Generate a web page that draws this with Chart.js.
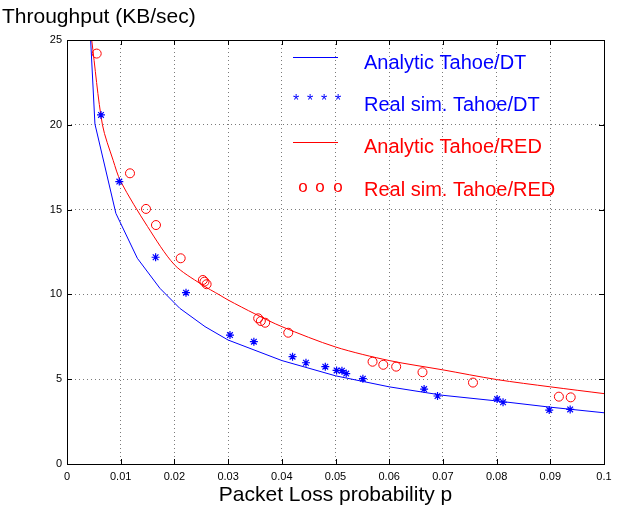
<!DOCTYPE html>
<html>
<head>
<meta charset="utf-8">
<script src="https://cdn.jsdelivr.net/npm/chart.js@4"></script>
<style>
html,body{margin:0;padding:0;background:#fff;}
#wrap{position:relative;width:628px;height:513px;}
</style>
</head>
<body>
<div id="wrap"><canvas id="c" width="628" height="513"></canvas></div>
<script>
// ---- data ----
const xTickValues = [0,0.01,0.02,0.03,0.04,0.05,0.06,0.07,0.08,0.09,0.1];
const xTickLabels = ['0','0.01','0.02','0.03','0.04','0.05','0.06','0.07','0.08','0.09','0.1'];
const yTickValues = [0,5,10,15,20,25];
const yTickLabels = ['0','5','10','15','20','25'];

const dtAnalyticP = [0.0044,0.0052,0.0091,0.0131,0.0173,0.021,0.0257,0.03,0.04,0.05,0.06,0.07,0.08,0.09,0.1];
const dtAnalyticT = [25,20.05,14.78,12.13,10.36,9.18,8.1,7.31,6.1,5.2,4.55,4.05,3.72,3.35,3.02];

const dtSimP = [0.00633,0.00974,0.0165,0.02216,0.03035,0.0348,0.042,0.0445,0.0481,0.0502,0.0512,0.052,0.0551,0.0665,0.069,0.0801,0.0812,0.0898,0.0937];
const dtSimT = [20.58,16.65,12.19,10.1,7.6,7.21,6.33,5.97,5.74,5.52,5.5,5.33,5.03,4.42,4.01,3.83,3.64,3.18,3.22];

const redAnalyticP = [0.0046,0.0066,0.0086,0.01,0.015,0.02,0.025,0.0285,0.03,0.035,0.04,0.05,0.06,0.07,0.08,0.09,0.1];
const redAnalyticT = [25,20,17.9,16.66,14.0,11.75,10.6,9.95,9.67,8.85,8.1,6.9,6.1,5.55,4.98,4.55,4.15];

const redSimP = [0.00553,0.01173,0.01471,0.01657,0.02117,0.0253,0.0256,0.026,0.0356,0.0361,0.0369,0.0412,0.0569,0.0589,0.0613,0.0662,0.0756,0.0916,0.0938];
const redSimT = [24.2,17.14,15.04,14.09,12.13,10.85,10.75,10.6,8.59,8.43,8.33,7.74,6.03,5.85,5.74,5.41,4.8,3.97,3.93];

const seriesNames = ['Analytic Tahoe/DT','Real sim. Tahoe/DT','Analytic Tahoe/RED','Real sim. Tahoe/RED'];
const yTitle = 'Throughput (KB/sec)';
const xTitle = 'Packet Loss probability p';

const BLUE = '#0000ff', RED = '#ff0000';
const FONT = "'Liberation Sans', Arial, Helvetica, sans-serif";
const pts = (xs, ys) => xs.map((x,i)=>({x:x, y:ys[i]}));

const framePlugin = {
  id: 'frame',
  afterDatasetsDraw(chart){
    const ctx = chart.ctx, a = chart.chartArea;
    const xs = chart.scales.x, ys = chart.scales.y;
    ctx.save();
    ctx.strokeStyle = '#000';
    ctx.lineWidth = 1;
    ctx.setLineDash([]);
    ctx.strokeRect(Math.round(a.left)+0.5, Math.round(a.top)+0.5, Math.round(a.right-a.left), Math.round(a.bottom-a.top));
    ctx.beginPath();
    const tl = 5;
    xTickValues.forEach(v=>{
      const px = Math.round(xs.getPixelForValue(v))+0.5;
      ctx.moveTo(px, a.bottom); ctx.lineTo(px, a.bottom-tl);
      ctx.moveTo(px, a.top); ctx.lineTo(px, a.top+tl);
    });
    yTickValues.forEach(v=>{
      const py = Math.round(ys.getPixelForValue(v))+0.5;
      ctx.moveTo(a.left, py); ctx.lineTo(a.left+tl, py);
      ctx.moveTo(a.right, py); ctx.lineTo(a.right-tl, py);
    });
    ctx.stroke();

    // titles
    ctx.fillStyle = '#000';
    ctx.font = '21px ' + FONT;
    ctx.textAlign = 'left';
    ctx.textBaseline = 'alphabetic';
    ctx.fillText(yTitle, 2, 23);
    ctx.textAlign = 'center';
    ctx.fillText(xTitle, (a.left+a.right)/2, 501);

    // legend
    const lx0 = 293, lx1 = 338, tx = 364;
    const rows = [69, 111, 153, 196];
    const cols = [BLUE, BLUE, RED, RED];
    ctx.lineWidth = 1;
    ctx.strokeStyle = BLUE;
    ctx.beginPath(); ctx.moveTo(lx0, 57.5); ctx.lineTo(lx1, 57.5); ctx.stroke();
    ctx.strokeStyle = RED;
    ctx.beginPath(); ctx.moveTo(lx0, 142.5); ctx.lineTo(lx1, 142.5); ctx.stroke();
    ctx.textAlign = 'center';
    ctx.fillStyle = BLUE;
    ctx.font = '16px ' + FONT;
    [296, 310, 324, 338].forEach(x=>ctx.fillText('*', x, 106));
    ctx.fillStyle = RED;
    ctx.font = '17px ' + FONT;
    [303, 320, 338].forEach(x=>ctx.fillText('o', x, 192));
    ctx.textAlign = 'left';
    ctx.font = '20px ' + FONT;
    seriesNames.forEach((n,i)=>{
      ctx.fillStyle = cols[i];
      ctx.fillText(n, tx, rows[i]);
    });
    ctx.restore();
  }
};

new Chart(document.getElementById('c'), {
  type: 'scatter',
  data: {
    datasets: [
      {label: seriesNames[0], data: pts(dtAnalyticP, dtAnalyticT), showLine: true, borderColor: BLUE, borderWidth: 1, pointRadius: 0, fill: false, tension: 0},
      {label: seriesNames[1], data: pts(dtSimP, dtSimT), showLine: false, pointStyle: 'star', pointRadius: 4, borderColor: BLUE, backgroundColor: BLUE, pointBorderWidth: 1.2},
      {label: seriesNames[2], data: pts(redAnalyticP, redAnalyticT), showLine: true, borderColor: RED, borderWidth: 1, pointRadius: 0, fill: false, tension: 0.3},
      {label: seriesNames[3], data: pts(redSimP, redSimT), showLine: false, pointStyle: 'circle', pointRadius: 4.5, borderColor: RED, backgroundColor: 'rgba(0,0,0,0)', pointBorderWidth: 1}
    ]
  },
  options: {
    responsive: false,
    animation: false,
    events: [],
    layout: {padding: {left: 0, right: 24, top: 40, bottom: 0}},
    plugins: {legend: {display: false}, tooltip: {enabled: false}},
    scales: {
      x: {
        type: 'linear', min: 0, max: 0.1,
        afterFit(s){ s.height = 49; },
        afterBuildTicks(s){ s.ticks = xTickValues.map(v=>({value:v})); },
        ticks: {callback: (v,i)=>xTickLabels[i], font: {family: FONT, size: 11}, color: '#000', padding: 6, maxRotation: 0, autoSkip: false},
        grid: {color: '#7a7a7a', lineWidth: 1, drawTicks: false},
        border: {display: false, dash: [1,3]}
      },
      y: {
        type: 'linear', min: 0, max: 25,
        afterFit(s){ s.width = 67; },
        afterBuildTicks(s){ s.ticks = yTickValues.map(v=>({value:v})); },
        ticks: {callback: (v,i)=>yTickLabels[i], font: {family: FONT, size: 11}, color: '#000', padding: 5},
        grid: {color: '#7a7a7a', lineWidth: 1, drawTicks: false},
        border: {display: false, dash: [1,3]}
      }
    }
  },
  plugins: [framePlugin]
});
</script>
</body>
</html>
